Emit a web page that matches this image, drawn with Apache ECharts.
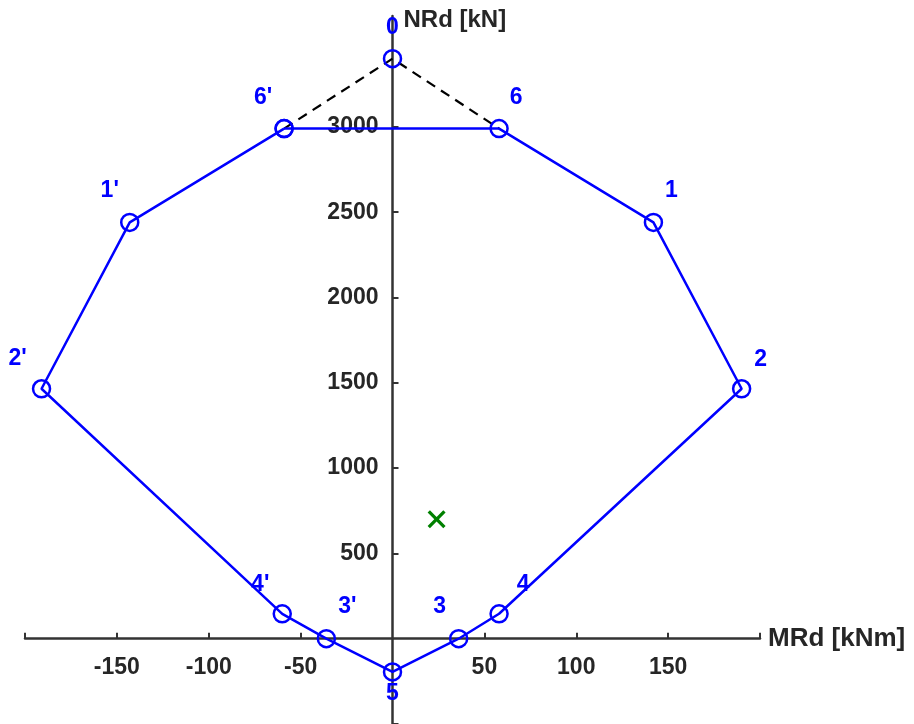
<!DOCTYPE html>
<html>
<head>
<meta charset="utf-8">
<script src="https://cdn.jsdelivr.net/npm/echarts@6/dist/echarts.min.js"></script>
<style>
html,body{margin:0;padding:0;background:#fff;}
#chart{width:914px;height:724px;}
</style>
</head>
<body>
<div id="chart"></div>
<script>
// ---- data ----
const pointNames = ['0', '1', '2', '3', '4', '5', '6', "1'", "2'", "3'", "4'", "6'"];
const mRd =        [0,   142, 190, 36,  58,  0,   58,  -143, -191, -36,  -60,  -59];
const nRd =        [3400, 2440, 1465, 0, 146, -195, 2990, 2440, 1465, 0, 146, 2990];
const polygonOrder = ["6'", '6', '1', '2', '4', '3', '5', "3'", "4'", "2'", "1'", "6'"];
const dashedOrder = ["6'", '0', '6'];
const loadM = [24];
const loadN = [700];
const xTickLabels = [-150, -100, -50, 50, 100, 150];
const xTicks = [-200, -150, -100, -50, 50, 100, 150, 200];
const yTickLabels = [500, 1000, 1500, 2000, 2500, 3000];
const yTicks = [-500, 500, 1000, 1500, 2000, 2500, 3000];
const xMin = -200, xMax = 200, yMin = -500, yMax = 3650;

// ---- build ----
const pt = n => { const i = pointNames.indexOf(n); return [mRd[i], nRd[i]]; };
const labelOffsets = {
  '0': [0, -31], '6': [17, -31], "6'": [-21, -31], '1': [18, -32], "1'": [-20, -32],
  '2': [19, -29], "2'": [-24, -30], '4': [24, -29], "4'": [-22, -29],
  '3': [-19, -32], "3'": [21, -32], '5': [0, 22]
};
const BLUE = '#0000ff';
const AX = '#333333';
const TXT = '#262626';
const FONT = 'Liberation Sans, Arial, sans-serif';
const G = {left: 25, right: 154, top: 16, bottom: 0};
const W = 914, H = 724;
// shift axes so they cross at the data origin
const gridW = W - G.left - G.right, gridH = H - G.top - G.bottom;
const yAxisShift = -gridW * (0 - xMin) / (xMax - xMin);
const xAxisShift = -gridH * (0 - yMin) / (yMax - yMin);

const chart = echarts.init(document.getElementById('chart'), null, {renderer: 'canvas'});
chart.setOption({
  backgroundColor: '#ffffff',
  animation: false,
  grid: Object.assign({containLabel: false, outerBoundsMode: 'none'}, G),
  xAxis: {
    type: 'value', min: xMin, max: xMax, interval: 50, position: 'bottom', offset: xAxisShift,
    name: 'MRd [kNm]', nameLocation: 'end', nameGap: 8,
    nameTextStyle: {fontSize: 26, fontWeight: 'bold', color: TXT, fontFamily: FONT,
      verticalAlign: 'middle', padding: [0, 0, 34, 0]},
    axisLine: {onZero: false, lineStyle: {color: AX, width: 2.5}},
    axisTick: {show: true, inside: true, length: 6, customValues: xTicks, lineStyle: {color: AX, width: 2}},
    axisLabel: {customValues: xTickLabels, formatter: v => String(v), margin: 17, fontSize: 23, fontWeight: 'bold', color: TXT, fontFamily: FONT},
    splitLine: {show: false}
  },
  yAxis: {
    type: 'value', min: yMin, max: yMax, interval: 500, position: 'left', offset: yAxisShift,
    name: 'NRd [kN]', nameLocation: 'end', nameGap: -4,
    nameTextStyle: {fontSize: 24, fontWeight: 'bold', color: TXT, fontFamily: FONT,
      align: 'left', verticalAlign: 'middle', padding: [0, 0, 0, 11]},
    axisLine: {onZero: false, lineStyle: {color: AX, width: 2.5}},
    axisTick: {show: true, inside: true, length: 6, customValues: yTicks, lineStyle: {color: AX, width: 2}},
    axisLabel: {customValues: yTickLabels, formatter: v => String(v), margin: 14, fontSize: 23, fontWeight: 'bold', color: TXT, fontFamily: FONT},
    splitLine: {show: false}
  },
  series: [
    {
      type: 'line', name: 'dashed', z: 2,
      data: dashedOrder.map(pt), symbol: 'none',
      lineStyle: {color: '#000', width: 2.2, type: [10, 7]}
    },
    {
      type: 'line', name: 'envelope', z: 3,
      data: polygonOrder.map(pt), symbol: 'circle', symbolSize: 17,
      lineStyle: {color: BLUE, width: 2.5},
      itemStyle: {color: 'rgba(0,0,0,0)', borderColor: BLUE, borderWidth: 2.5, opacity: 1}
    },
    {
      type: 'scatter', name: 'top', z: 3,
      data: [pt('0')], symbol: 'circle', symbolSize: 17,
      itemStyle: {color: 'rgba(0,0,0,0)', borderColor: BLUE, borderWidth: 2.5, opacity: 1}
    },
    {
      type: 'scatter', name: 'labels', z: 4, symbolSize: 0,
      itemStyle: {opacity: 1},
      data: pointNames.map(n => ({
        value: pt(n), name: n,
        label: {show: true, formatter: n, position: 'inside', offset: labelOffsets[n],
          fontSize: 23, fontWeight: 'bold', color: BLUE, fontFamily: FONT, opacity: 1}
      }))
    },
    {
      type: 'scatter', name: 'load', z: 5,
      data: loadM.map((m, i) => [m, loadN[i]]),
      symbol: 'path://M0,2.6 L2.6,0 L10,7.4 L17.4,0 L20,2.6 L12.6,10 L20,17.4 L17.4,20 L10,12.6 L2.6,20 L0,17.4 L7.4,10 Z',
      symbolSize: 18,
      itemStyle: {color: '#008000', opacity: 1}
    }
  ]
});
</script>
</body>
</html>
